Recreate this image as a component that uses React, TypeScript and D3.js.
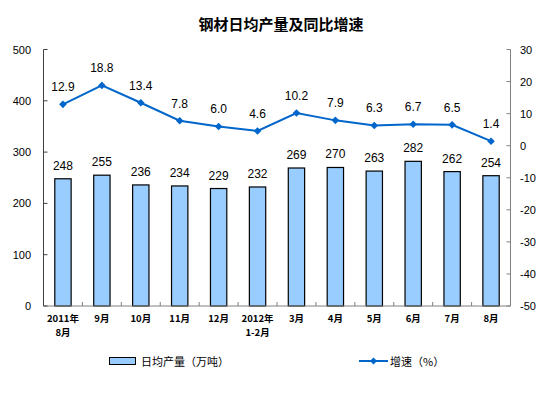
import React from "react";
import * as d3 from "d3";

const categories = ["2011年\n8月", "9月", "10月", "11月", "12月", "2012年\n1-2月", "3月", "4月", "5月", "6月", "7月", "8月"];
const output = [248, 255, 236, 234, 229, 232, 269, 270, 263, 282, 262, 254];
const growth = [12.9, 18.8, 13.4, 7.8, 6.0, 4.6, 10.2, 7.9, 6.3, 6.7, 6.5, 1.4];
const leftTicks = [0, 100, 200, 300, 400, 500];
const rightTicks = [-50, -40, -30, -20, -10, 0, 10, 20, 30];

const W = 559, H = 398;
const L = 43.5, R = 510.5, T = 49.5, B = 306;
const font = "'Liberation Sans', Arial, sans-serif";
const cjk = "'Noto Sans CJK SC', sans-serif";

export default function App() {
  const x = d3.scaleBand<number>().domain(d3.range(categories.length)).range([L, R]).paddingInner(0).paddingOuter(0);
  const yL = d3.scaleLinear().domain([0, 500]).range([B, T]);
  const yR = d3.scaleLinear().domain([-50, 30]).range([B, T]);
  const bw = x.bandwidth() * 0.42;
  const cx = (i: number) => (x(i) as number) + x.bandwidth() / 2;
  const line = d3.line<number>().x((_, i) => cx(i)).y((d) => yR(d));
  const diamond = (px: number, py: number, s: number) => `M${px},${py - s}L${px + s},${py}L${px},${py + s}L${px - s},${py}Z`;
  const blue = "#0066CC";
  return (
    <svg width={W} height={H} style={{ position: "absolute", left: 0, top: 0, background: "#fff" }}>
      <text x={281} y={30} textAnchor="middle" fontFamily={cjk} fontSize={15} fontWeight="bold" fill="#000">钢材日均产量及同比增速</text>
      {/* bars */}
      {output.map((v, i) => (
        <rect key={"b" + i} x={cx(i) - bw / 2} y={yL(v)} width={bw} height={B - yL(v)} fill="#99CCFF" stroke="#000" strokeWidth={1.2} />
      ))}
      {output.map((v, i) => (
        <text key={"bl" + i} x={cx(i)} y={yL(v) - 9} textAnchor="middle" fontFamily={font} fontSize={12} fill="#000">{v}</text>
      ))}
      {/* x axis */}
      <line x1={L} x2={R} y1={B} y2={B} stroke="#808080" strokeWidth={1} />
      {d3.range(categories.length + 1).map((i) => {
        const px = L + i * x.bandwidth();
        return <line key={"xt" + i} x1={px} x2={px} y1={B} y2={B - 4} stroke="#808080" />;
      })}
      {/* left axis */}
      <line x1={L} x2={L} y1={T} y2={B} stroke="#404040" />
      {leftTicks.map((t) => (
        <g key={"lt" + t}>
          <line x1={L} x2={L + 4} y1={yL(t)} y2={yL(t)} stroke="#404040" />
          <text x={31} y={yL(t) + 4} textAnchor="end" fontFamily={font} fontSize={11} fill="#000">{t}</text>
        </g>
      ))}
      {/* right axis */}
      <line x1={R} x2={R} y1={T} y2={B} stroke="#808080" />
      {rightTicks.map((t) => (
        <g key={"rt" + t}>
          <line x1={R - 4} x2={R} y1={yR(t)} y2={yR(t)} stroke="#808080" />
          <text x={520} y={yR(t) + 4} textAnchor="start" fontFamily={font} fontSize={11} fill="#000">{t}</text>
        </g>
      ))}
      {/* category labels */}
      {categories.map((c, i) => (
        <text key={"c" + i} x={cx(i)} y={322} textAnchor="middle" fontFamily={cjk} fontSize={9.5} fontWeight="bold" fill="#000">
          {c.split("\n").map((s, j) => (
            <tspan key={j} x={cx(i)} dy={j === 0 ? 0 : 14}>{s}</tspan>
          ))}
        </text>
      ))}
      {/* line */}
      <path d={line(growth) || ""} fill="none" stroke={blue} strokeWidth={2} />
      {growth.map((v, i) => (
        <path key={"m" + i} d={diamond(cx(i), yR(v), 3.8)} fill={blue} />
      ))}
      {growth.map((v, i) => (
        <text key={"gl" + i} x={cx(i)} y={yR(v) - 13} textAnchor="middle" fontFamily={font} fontSize={12} fill="#000">{v.toFixed(1)}</text>
      ))}
      {/* legend */}
      <rect x={109.5} y={357.5} width={26} height={7} fill="#99CCFF" stroke="#000" />
      <text x={141} y={365.5} fontFamily={cjk} fontSize={11} fill="#000">日均产量（万吨）</text>
      <line x1={359} x2={388} y1={361} y2={361} stroke={blue} strokeWidth={2} />
      <path d={diamond(373.5, 361, 3.5)} fill={blue} />
      <text x={390} y={365.5} fontFamily={cjk} fontSize={11} fill="#000">增速（%）</text>
    </svg>
  );
}
